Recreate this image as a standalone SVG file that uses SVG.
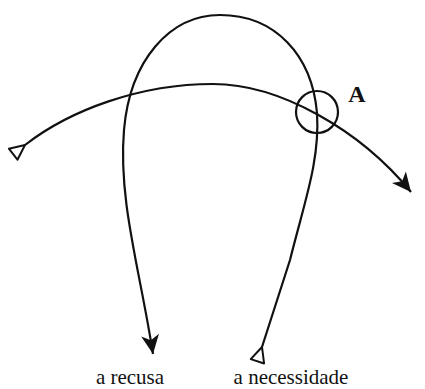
<svg xmlns="http://www.w3.org/2000/svg" width="425" height="389" viewBox="0 0 425 389">
<style>
.ln{fill:none;stroke:#111;stroke-width:2.2;}
.lbl{font-family:"Liberation Serif",serif;font-size:21px;fill:#111;text-anchor:middle;}
</style>
<defs>
<marker id="arr" markerUnits="userSpaceOnUse" markerWidth="26" markerHeight="26" viewBox="-22 -13 26 26" refX="0" refY="0" orient="auto-start-reverse">
<path d="M0,0 L-19,-9 L-14,0 L-19,9 Z" fill="#111"/>
</marker>
<marker id="tri" markerUnits="userSpaceOnUse" markerWidth="26" markerHeight="26" viewBox="-4 -13 26 26" refX="0" refY="0" orient="auto-start-reverse">
<path d="M0,0 L15,-7 L15,7 Z" fill="#fff" stroke="#111" stroke-width="2" stroke-linejoin="round"/>
</marker>
</defs>
<rect width="425" height="389" fill="#fff"/>
<g id="connectors">
<path id="loop" class="ln" d="M153,354 C140,270 118,200 124,130 C130,60 170,15 220,15 C275,15 312,55 317,113 C320,160 305,200 290,260 L262,347" marker-start="url(#arr)" marker-end="url(#tri)"/>
<path id="arc" class="ln" d="M25,145 C70,110 140,84 213,84 C280,84 360,130 411,192" marker-start="url(#tri)" marker-end="url(#arr)"/>
</g>
<g id="nodeA">
<circle cx="317" cy="112" r="21" class="ln"/>
<text x="357" y="102" style="font-family:'Liberation Serif',serif;font-size:24px;font-weight:bold;fill:#111;text-anchor:middle">A</text>
</g>
<g id="label-recusa"><text class="lbl" x="130" y="384">a recusa</text></g>
<g id="label-necessidade"><text class="lbl" x="291" y="384">a necessidade</text></g>
</svg>
